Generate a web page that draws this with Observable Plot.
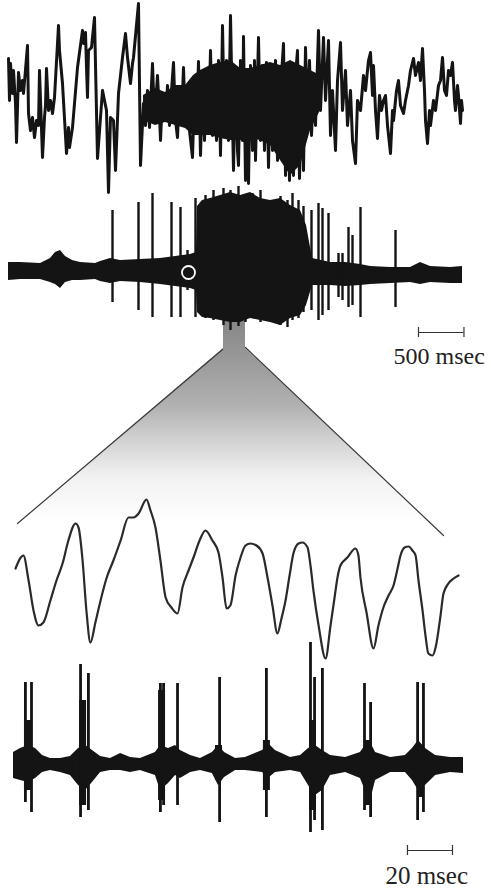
<!DOCTYPE html>
<html><head><meta charset="utf-8">
<script src="https://cdn.jsdelivr.net/npm/d3@7"></script>
<script src="https://cdn.jsdelivr.net/npm/@observablehq/plot@0.6"></script>
<style>
html,body{margin:0;padding:0;background:#fff;}
#fig{position:relative;width:491px;height:889px;overflow:hidden;background:#fff;}
#fig > svg{position:absolute;left:0;}
</style></head><body><div id="fig"></div>
<script>
// ---- time bases (ms) ----
const slowTimeDomain = [0, 4994];   // upper two traces
const fastTimeDomain = [0, 200];    // lower two traces (expanded view)

// ---- Trace 1: field potential, slow timebase [t ms, amplitude] ----
const lfpTrace = [[0,42],[11,0],[22,37],[44,7],[55,30],[77,-3],[88,-42],[110,28],[132,10],[154,20],[165,7],[209,55],[220,-13],[242,-30],[264,-17],[286,-37],[308,-20],[330,-25],[341,30],[374,-57],[396,-17],[407,-5],[418,32],[440,-10],[462,0],[484,-13],[506,3],[550,75],[561,50],[594,17],[638,-53],[660,-27],[671,-47],[704,-27],[759,33],[814,70],[825,57],[847,68],[858,33],[869,3],[880,50],[913,53],[946,83],[979,-58],[1012,-17],[1034,10],[1056,0],[1078,-10],[1100,-92],[1122,-17],[1155,-20],[1177,-70],[1210,7],[1254,43],[1287,67],[1309,43],[1342,17],[1364,37],[1375,43],[1430,97],[1452,-65],[1485,-3],
[1507,-25],[1529,10],[1551,-27],[1584,37],[1606,-20],[1639,25],[1661,-15],[1672,-40],[1694,5],[1727,-20],[1749,15],[1771,-25],[1793,10],[1815,38],[1837,-20],[1859,-37],[1881,10],[1903,-20],[1925,33],[1947,-25],[1969,5],[1991,-30],[2024,-57],[2046,10],[2068,-30],[2090,39],[2112,-55],[2134,15],[2156,-40],[2178,25],[2200,-30],[2222,50],[2244,-35],[2266,30],[2288,-40],[2310,40],[2332,-55],[2354,75],[2376,-30],[2398,40],[2420,-40],[2442,85],[2464,-20],[2475,-70],[2497,30],[2519,-50],[2530,-65],[2552,40],[2574,-40],[2585,64],[2607,-80],[2629,30],[2640,-83],[2662,35],[2684,-50],[2706,40],[2717,-60],[2750,63],[2772,-40],[2794,35],[2816,-50],[2838,38],[2860,-67],[2882,30],[2904,-50],[2937,40],[2959,-60],[2992,10],[3025,57],[3047,-75],[3069,20],[3091,-80],[3113,30],[3135,-75],[3157,25],[3179,50],[3201,-78],[3223,10],[3245,-70],[3267,53],[3289,-20],[3311,40],[3333,-35],[3355,20],[3377,-25],[3410,70],[3432,-10],[3465,63],[3487,0],[3520,60],[3542,-35],[3564,10],[3597,-50],[3619,20],[3652,58],[3674,-10],[3707,30],[3729,-25],[3762,10],[3784,-40],[3817,-63],[3839,0],[3872,-10],[3905,25],[3927,10],[3960,40],[3982,48],[4004,5],[4015,35],[4037,-10],[4059,-38],[4081,5],[4103,-10],[4125,0],[4147,5],[4169,-25],[4202,-53],[4224,-10],[4235,-20],[4268,10],[4290,20],[4312,-5],[4345,-13],[4367,0],[4400,15],[4422,30],[4455,42],[4477,25],[4510,38],[4532,20],[4554,52],[4576,10],[4587,-20],[4609,-43],[4631,-10],[4642,-25],[4675,0],[4697,-10],[4730,15],[4752,20],[4774,43],[4796,10],[4818,5],[4840,30],[4862,25],[4884,38],[4906,0],[4917,-10],[4939,15],[4950,5],[4972,-23],[4983,0],[4994,-10]];

// dense high-frequency envelope of trace 1 [t, max, min]
const lfpDenseBand = [[1485,5,-20],[1617,12,-25],[1727,8,-22],[1837,15,-25],[1947,15,-28],[2035,25,-35],[2112,30,-35],[2222,35,-35],[2332,38,-38],[2442,40,-40],[2552,32,-40],[2662,32,-38],[2772,35,-40],[2882,38,-45],[2992,35,-60],[3102,40,-75],[3212,35,-65],[3322,30,-30],[3432,25,-10]];

// ---- Trace 2: multi-unit activity, slow timebase ----
// background envelope [t, max, min]
const unitBand = [[0,10,-8],[132,10,-7],[352,9,-7],[462,14,-10],[517,20,-12],[572,22,-16],[627,16,-10],[704,12,-8],[792,10,-8],[957,9,-7],[1012,11,-9],[1122,14,-11],[1232,12,-9],[1452,13,-10],[1672,14,-12],[1837,16,-14],[2002,18,-16],[2068,20,-18],[2079,66,-40],[2134,72,-45],[2222,74,-46],[2332,77,-48],[2442,80,-50],[2552,77,-50],[2662,80,-46],[2772,74,-48],[2882,72,-50],[2992,74,-53],[3102,67,-46],[3212,62,-43],[3278,47,-33],[3344,14,-13],[3542,10,-13],[3707,10,-14],[3872,8,-13],[3982,6,-12],[4202,5,-11],[4422,5,-10],[4532,10,-12],[4642,6,-10],[4862,5,-11],[4994,6,-11]];
// individual spikes [t, peak, trough]
const unitSpikes = [[1144,62,-30],[1430,70,-38],[1584,79,-45],[1793,70,-45],[1892,65,-45],[1969,22,-18],[2057,74,-45],[2167,77,-46],[2255,82,-48],[2365,84,-53],[2442,82,-58],[2530,86,-54],[2607,75,-50],[2684,79,-46],[2772,82,-50],[2838,72,-48],[2915,67,-46],[2992,76,-53],[3069,72,-55],[3124,79,-48],[3190,72,-46],[3245,66,-40],[3333,62,-38],[3410,69,-48],[3454,64,-43],[3520,59,-38],[3630,19,-25],[3674,19,-28],[3740,45,-35],[3784,37,-33],[3872,65,-45],[4257,42,-35]];
const unitMarker = [[1980,0]];

// ---- expanded window: zoom from slow timebase [depth, left t, right t] ----
const funnelOutline = [[8,2365,2607],[38,2365,2607],[213,99,4646]];
const funnelEdges = [["left",2354,39],["left",99,213],["right",2607,37],["right",4785,225]];

// ---- Trace 3: field potential, fast timebase [t ms, amplitude] ----
const fastLfp = [[0.9,32],[4.4,45],[6.7,20],[8.9,-10],[11.1,-25],[13.3,-22],[16.4,0],[19.1,20],[21.8,37],[24.4,60],[27.6,77],[28.9,73],[30.7,40],[32.4,-10],[34.2,-42],[36.4,-22],[38.7,0],[41.3,22],[44.4,40],[47.6,60],[51.1,83],[53.3,83],[55.6,87],[59.1,101],[60.9,90],[63.1,73],[65.3,40],[67.6,3],[70.2,-7],[72.9,-13],[75.1,13],[77.8,30],[80,43],[82.7,60],[85.3,70],[88.4,60],[91.1,48],[92.9,23],[94.7,-8],[96.4,-5],[98.7,25],[100.9,43],[103.1,55],[105.3,57],[108,55],[110.7,47],[112.9,23],[115.1,-5],[117.3,-33],[119.1,-18],[120.9,0],[122.7,25],[124.4,47],[126.7,57],[128.4,58],[130.7,53],[132,35],[133.3,10],[135.6,-25],[138.7,-58],[140.9,-25],[142.7,3],[144,23],[145.3,35],[148.4,43],[152,52],[153.3,45],[154.2,23],[156.9,-12],[160,-48],[162.2,-25],[164.4,-7],[166.7,5],[168.9,15],[170.7,32],[172,45],[173.8,53],[175.6,54],[177.3,50],[178.7,45],[180,20],[181.8,-10],[183.1,-35],[184.4,-53],[186.2,-55],[187.6,-47],[189.8,-15],[191.1,7],[193.3,17],[195.6,22],[197.8,25]];

// ---- Trace 4: unit activity, fast timebase ----
const fastBand = [[0,13,-13],[3.1,17,-15],[6.7,20,-17],[9.8,17,-13],[12.9,10,-7],[16.4,7,-5],[20.9,7,-7],[25.3,9,-10],[28.9,17,-20],[32,20,-25],[35.1,15,-17],[38.7,9,-7],[43.1,7,-5],[47.6,12,-5],[52,8,-7],[56.4,7,-5],[63.1,13,-10],[65.3,20,-25],[68.9,17,-18],[72,20,-10],[74.2,15,-13],[78.7,10,-7],[83.1,7,-5],[88.4,13,-8],[91.1,20,-20],[93.8,13,-12],[98.7,7,-5],[103.1,8,-5],[110.7,15,-7],[113.3,22,-13],[116.4,15,-7],[123.1,8,-5],[127.6,10,-7],[131.1,17,-20],[134.2,20,-30],[137.3,15,-25],[140.9,10,-10],[147.6,8,-7],[154.2,13,-13],[156.4,20,-25],[158.7,23,-35],[160.9,13,-15],[167.6,8,-7],[174.2,10,-7],[177.3,17,-15],[180,25,-25],[183.1,17,-20],[187.6,10,-10],[194.2,8,-7],[200,8,-8]];
const fastBurstCores = [[6.2,45,-25],[30.7,65,-40],[65.8,75,-35],[91.1,20,-15],[112.4,25,-25],[132.9,45,-45],[157.3,25,-40],[180.9,20,-32]];
const fastSpikes = [[5.3,83,-37],[8,83,-47],[29.8,101,-52],[33.3,92,-45],[65.3,82,-47],[66.7,82,-40],[72.9,82,-40],[91.6,88,-57],[112.4,97,-52],[132,123,-67],[133.8,88,-55],[137.3,97,-65],[156,82,-45],[158.7,63,-52],[179.6,83,-55],[182.2,82,-47]];

// ---- scale bars ----
const slowScale = [{t0: 4510, t1: 5010, label: "500 msec"}];
const fastScale = [{t0: 175.1, t1: 195.1, label: "20 msec"}];

const INK = "#141414";
const fig = document.getElementById("fig");

function panel(top, height, xDomain, mL, mR, yDomain, marks, reverse=false) {
  const svg = Plot.plot({
    width: 491, height, marginTop: 0, marginBottom: 0, marginLeft: mL, marginRight: mR,
    x: {domain: xDomain, axis: null},
    y: {domain: yDomain, axis: null, reverse},
    style: {background: "transparent", overflow: "visible"},
    marks
  });
  svg.style.top = top + "px";
  fig.appendChild(svg);
  return svg;
}

// Funnel (drawn first, underneath)
const fsvg = panel(310, 230, slowTimeDomain, 8, 29, [0, 230], [
  Plot.areaX(funnelOutline, {y: d => d[0], x1: d => d[1], x2: d => d[2], fill: "url(#funnelFade)"}),
  Plot.line(funnelEdges, {x: d => d[1], y: d => d[2], z: d => d[0], stroke: "#3a3a3a", strokeWidth: 1.2})
], true);
const defs = d3.select(fsvg).insert("defs", ":first-child");
const grad = defs.append("linearGradient").attr("id", "funnelFade").attr("x1", 0).attr("y1", 0).attr("x2", 0).attr("y2", 1);
[[0, "#858585"], [0.16, "#959595"], [0.42, "#b0b0b0"], [0.62, "#d6d6d6"], [0.78, "#f2f2f2"], [1, "#ffffff"]]
  .forEach(([o, c]) => grad.append("stop").attr("offset", o).attr("stop-color", c));

// Trace 1
panel(0, 200, slowTimeDomain, 8, 29, [-100, 100], [
  Plot.areaY(lfpDenseBand, {x: d => d[0], y1: d => d[1], y2: d => d[2], fill: INK}),
  Plot.line(lfpTrace, {x: d => d[0], y: d => d[1], stroke: INK, strokeWidth: 3, strokeLinejoin: "round"})
]);

// Trace 2 + 500 msec scale bar
panel(180, 190, slowTimeDomain, 8, 29, [-98, 92], [
  Plot.areaY(unitBand, {x: d => d[0], y1: d => d[1], y2: d => d[2], fill: INK}),
  Plot.ruleX(unitSpikes, {x: d => d[0], y1: d => d[1], y2: d => d[2], stroke: INK, strokeWidth: 2.4}),
  Plot.dot(unitMarker, {x: d => d[0], y: d => d[1], r: 6.5, stroke: "white", strokeWidth: 1.8, fill: "none"}),
  Plot.ruleY(slowScale, {y: () => -60, x1: "t0", x2: "t1", stroke: "#333", strokeWidth: 1.2}),
  Plot.ruleX(slowScale.flatMap(d => [{t: d.t0}, {t: d.t1}]), {x: "t", y1: () => -55, y2: () => -65, stroke: "#333", strokeWidth: 1.2}),
  Plot.text(slowScale, {x: d => d.t0 - 275, y: () => -84, text: "label", textAnchor: "start", fontFamily: "Liberation Serif", fontSize: 24, fill: "#222"})
]);

// Trace 3
panel(480, 190, fastTimeDomain, 13, 28, [-70, 120], [
  Plot.line(fastLfp, {x: d => d[0], y: d => d[1], stroke: "#2a2a2a", strokeWidth: 2.2, curve: "monotone-x"})
]);

// Trace 4 + 20 msec scale bar
panel(630, 259, fastTimeDomain, 13, 28, [-124, 135], [
  Plot.areaY(fastBand, {x: d => d[0], y1: d => d[1], y2: d => d[2], fill: INK, curve: "linear"}),
  Plot.ruleX(fastBurstCores, {x: d => d[0], y1: d => d[1], y2: d => d[2], stroke: INK, strokeWidth: 7}),
  Plot.ruleX(fastSpikes, {x: d => d[0], y1: d => d[1], y2: d => d[2], stroke: INK, strokeWidth: 2.8}),
  Plot.ruleY(fastScale, {y: () => -85, x1: "t0", x2: "t1", stroke: "#333", strokeWidth: 1.2}),
  Plot.ruleX(fastScale.flatMap(d => [{t: d.t0}, {t: d.t1}]), {x: "t", y1: () => -80, y2: () => -90, stroke: "#333", strokeWidth: 1.2}),
  Plot.text(fastScale, {x: d => d.t0 - 9.8, y: () => -110, text: "label", textAnchor: "start", fontFamily: "Liberation Serif", fontSize: 25, fill: "#222"})
]);
</script></body></html>
